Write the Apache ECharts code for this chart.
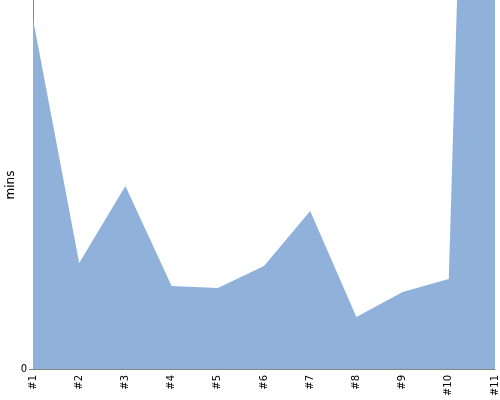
<!DOCTYPE html>
<html><head><meta charset="utf-8">
<script src="https://cdn.jsdelivr.net/npm/echarts@6/dist/echarts.min.js"></script>
<style>html,body{margin:0;padding:0;background:#fff}#c{width:500px;height:400px}</style>
</head><body><div id="c"></div>
<script>
const categories = ['#1','#2','#3','#4','#5','#6','#7','#8','#9','#10','#11'];
const minsValues = [350, 106, 183, 83, 81, 103, 158, 52, 77, 90, 1660];
const yTickValues = [0];
const yAxisTitle = 'mins';

const chart = echarts.init(document.getElementById('c'), null, {renderer:'canvas'});
chart.setOption({
  animation: false,
  grid: {left: 33, right: 5, top: 0, bottom: 31, containLabel: false, outerBoundsMode: 'none'},
  graphic: [{
    type: 'text', x: 11, y: 185, rotation: Math.PI / 2,
    style: {text: yAxisTitle, fontSize: 12, fontFamily: 'DejaVu Sans', fill: '#000',
      align: 'center', verticalAlign: 'middle'}
  }],
  xAxis: {
    type: 'category', data: categories, boundaryGap: false,
    axisLine: {lineStyle: {color: '#868686', width: 1}},
    axisTick: {show: false},
    axisLabel: {rotate: 90, fontSize: 10, fontFamily: 'DejaVu Sans', color: '#000', margin: 6, interval: 0}
  },
  yAxis: {
    type: 'value', min: 0, max: 369,
    axisLine: {show: true, lineStyle: {color: '#868686', width: 1}},
    axisTick: {show: true, length: 4, lineStyle: {color: '#868686'}, customValues: yTickValues},
    splitLine: {show: false},
    axisLabel: {fontSize: 10, fontFamily: 'DejaVu Sans', color: '#000', margin: 6, customValues: yTickValues}
  },
  series: [{
    type: 'line', data: minsValues, symbol: 'none', clip: true,
    lineStyle: {width: 0}, areaStyle: {color: '#8fb1da', opacity: 1}
  }]
});
</script></body></html>
